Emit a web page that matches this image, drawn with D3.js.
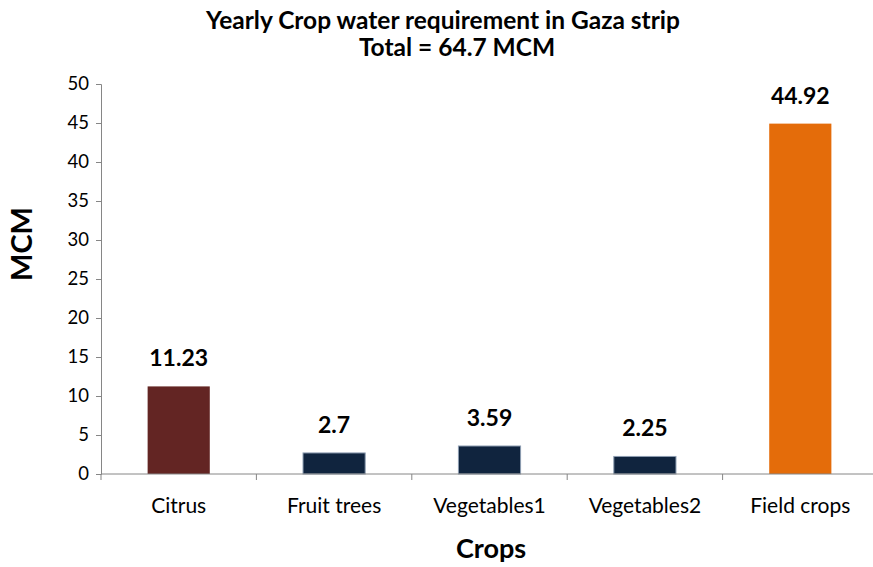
<!DOCTYPE html>
<html>
<head>
<meta charset="utf-8">
<script src="https://cdn.jsdelivr.net/npm/d3@7"></script>
<style>
  body { margin: 0; background: #fff; }
  text { font-family: Lato, "Open Sans", sans-serif; }
</style>
</head>
<body>
<div id="chart"></div>
<script>
var crops = ["Citrus", "Fruit trees", "Vegetables1", "Vegetables2", "Field crops"];
var mcm = [11.23, 2.7, 3.59, 2.25, 44.92];
var barColors = ["#632523", "#10243e", "#10243e", "#10243e", "#e46c0a"];
var barStrokes = ["none", "#8d9db1", "#8d9db1", "#8d9db1", "none"];
var yTicks = [0, 5, 10, 15, 20, 25, 30, 35, 40, 45, 50];

var svgWidth = 873;
var svgHeight = 567;

var margin = { top: 84, right: -5, bottom: 93, left: 101 };
var width = svgWidth - margin.left - margin.right;
var height = svgHeight - margin.top - margin.bottom;

var svg = d3.select("#chart")
  .append("svg")
  .attr("width", svgWidth)
  .attr("height", svgHeight);

svg.append("text")
  .attr("x", 443).attr("y", 29)
  .attr("text-anchor", "middle")
  .attr("font-weight", "bold")
  .attr("font-size", "24.5px")
  .text("Yearly Crop water requirement in Gaza strip");

svg.append("text")
  .attr("x", 457).attr("y", 56)
  .attr("text-anchor", "middle")
  .attr("font-weight", "bold")
  .attr("font-size", "24.5px")
  .text("Total = 64.7 MCM");

var chart = svg.append("g")
  .attr("transform", `translate(${margin.left}, ${margin.top})`);

var x = d3.scaleBand()
  .domain(crops)
  .range([0, width])
  .paddingInner(0.6)
  .paddingOuter(0.3);

var y = d3.scaleLinear()
  .domain([0, 50])
  .range([height, 0]);

// bars
chart.selectAll("rect.bar")
  .data(mcm)
  .enter()
  .append("rect")
  .attr("class", "bar")
  .attr("x", (d, i) => x(crops[i]))
  .attr("y", d => y(d))
  .attr("width", x.bandwidth())
  .attr("height", d => height - y(d))
  .attr("fill", (d, i) => barColors[i])
  .attr("stroke", (d, i) => barStrokes[i])
  .attr("stroke-width", 1);

// value labels
chart.selectAll("text.val")
  .data(mcm)
  .enter()
  .append("text")
  .attr("class", "val")
  .attr("x", (d, i) => x(crops[i]) + x.bandwidth() / 2)
  .attr("y", d => y(d) - 20)
  .attr("text-anchor", "middle")
  .attr("font-weight", "bold")
  .attr("font-size", "23px")
  .text(d => d);

// y axis
var leftAxis = d3.axisLeft(y).tickValues(yTicks).tickSize(5).tickPadding(7);
var yg = chart.append("g").call(leftAxis);
yg.select(".domain").attr("stroke", "#868686");
yg.selectAll(".tick line").attr("stroke", "#868686");
yg.selectAll(".tick text").attr("font-size", "18.5px").attr("fill", "#000")
  .style("font-family", "Lato, sans-serif");

// x axis
var xg = chart.append("g").attr("transform", `translate(0, ${height})`);
xg.append("line")
  .attr("x1", 0).attr("x2", width)
  .attr("stroke", "#868686");
var step = x.step();
xg.selectAll("line.tk")
  .data(d3.range(crops.length + 1))
  .enter()
  .append("line")
  .attr("class", "tk")
  .attr("x1", d => d * step).attr("x2", d => d * step)
  .attr("y1", 0).attr("y2", 6)
  .attr("stroke", "#868686");
xg.selectAll("text.cat")
  .data(crops)
  .enter()
  .append("text")
  .attr("class", "cat")
  .attr("x", d => x(d) + x.bandwidth() / 2)
  .attr("y", 39)
  .attr("text-anchor", "middle")
  .attr("font-size", "21px")
  .text(d => d);

// axis titles
svg.append("text")
  .attr("transform", "translate(32, 244) rotate(-90)")
  .attr("text-anchor", "middle")
  .attr("font-weight", "bold")
  .attr("font-size", "29px")
  .text("MCM");

svg.append("text")
  .attr("x", 491).attr("y", 558)
  .attr("text-anchor", "middle")
  .attr("font-weight", "bold")
  .attr("font-size", "27px")
  .text("Crops");
</script>
</body>
</html>
